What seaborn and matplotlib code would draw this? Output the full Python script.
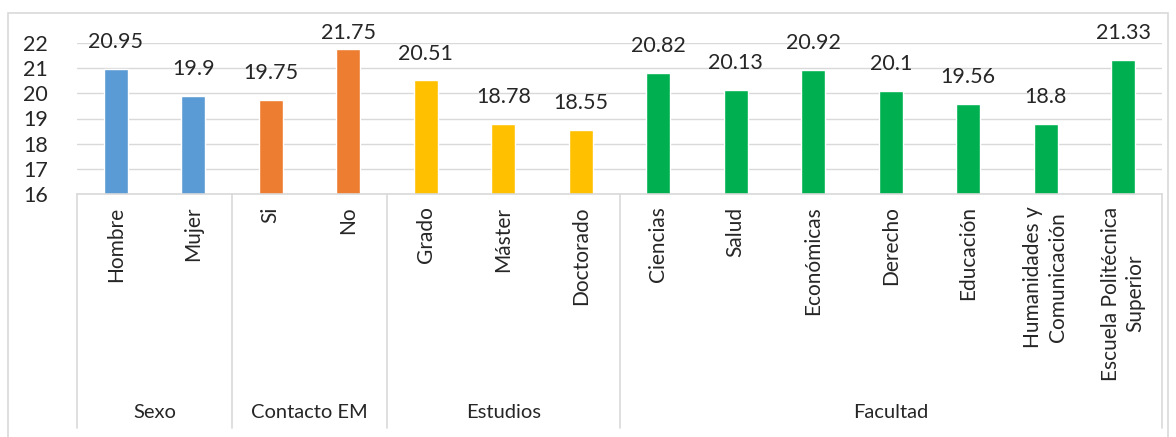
import matplotlib
matplotlib.use("Agg")
import matplotlib.pyplot as plt
import matplotlib.transforms as mtransforms
from matplotlib.patches import Rectangle
import seaborn as sns
import pandas as pd

categories = ["Hombre", "Mujer", "Si", "No", "Grado", "Máster", "Doctorado",
              "Ciencias", "Salud", "Económicas", "Derecho", "Educación",
              "Humanidades y\nComunicación", "Escuela Politécnica\nSuperior"]
values = [20.95, 19.9, 19.75, 21.75, 20.51, 18.78, 18.55,
          20.82, 20.13, 20.92, 20.1, 19.56, 18.8, 21.33]
groups = ["Sexo", "Sexo", "Contacto EM", "Contacto EM", "Estudios", "Estudios", "Estudios",
          "Facultad", "Facultad", "Facultad", "Facultad", "Facultad", "Facultad", "Facultad"]
group_names = ["Sexo", "Contacto EM", "Estudios", "Facultad"]
group_colors = ["#5B9BD5", "#ED7D31", "#FFC000", "#00B050"]
yticks = [16, 17, 18, 19, 20, 21, 22]

sns.set_theme(style="white")
plt.rcParams['font.family'] = ['Lato', 'DejaVu Sans']

df = pd.DataFrame({"cat": categories, "val": values, "grp": groups})

fig = plt.figure(figsize=(11.76, 4.37), dpi=100)
W, H = 1176, 437
left_px, right_px, top_px, base_px = 77, 1162, 43, 194
ax = fig.add_axes([left_px / W, (H - base_px) / H, (right_px - left_px) / W, (base_px - top_px) / H])

# outer chart frame
fig.patches.append(Rectangle((8 / W, -0.05), (1168 - 8) / W, (H - 13) / H + 0.05,
                             transform=fig.transFigure, fill=False, edgecolor="#D9D9D9", lw=1.2))

sns.barplot(data=df, x="cat", y="val", hue="grp", hue_order=group_names,
            palette=group_colors, dodge=False, width=0.31, legend=False, ax=ax,
            saturation=1)

ax.set_ylim(16, 22)
ax.set_xlim(-0.5, len(categories) - 0.5)
ax.set_yticks(yticks)
ax.set_yticklabels([str(t) for t in yticks], fontsize=15.5, color="#262626")
ax.yaxis.grid(True, color="#D9D9D9", lw=1)
ax.set_axisbelow(True)
ax.tick_params(axis="y", length=0, pad=21)
ax.tick_params(axis="x", length=0, pad=9)
ax.set_xticks(range(len(categories)))
ax.set_xticklabels(categories, rotation=90, fontsize=15, color="#262626",
                   va="top", ha="center", multialignment="center", linespacing=1.3)
ax.set_xlabel("")
ax.set_ylabel("")
for s in ["top", "right", "left"]:
    ax.spines[s].set_visible(False)
ax.spines["bottom"].set_color("#D9D9D9")
ax.spines["bottom"].set_linewidth(1.2)

# data labels
for i, v in enumerate(values):
    ax.text(i, min(v + 1.07, 22.4), f"{v:g}", ha="center", va="center",
            fontsize=15.5, color="#262626", clip_on=False)

# multi-level category axis
trans = mtransforms.blended_transform_factory(ax.transData, ax.transAxes)
axh = base_px - top_px
y_div = -(428 - base_px) / axh
y_grp = -(412 - base_px) / axh
bounds = [-0.5]
start = 0
for g in group_names:
    n = groups.count(g)
    end = start + n
    bounds.append(end - 0.5)
    ax.text((start + end - 1) / 2, y_grp, g, transform=trans, ha="center", va="center",
            fontsize=14.5, color="#262626")
    start = end
for b in bounds:
    ax.plot([b, b], [0, y_div], transform=trans, color="#D9D9D9", lw=1.2, clip_on=False)

fig.savefig("out.png", dpi=100, facecolor="white")
